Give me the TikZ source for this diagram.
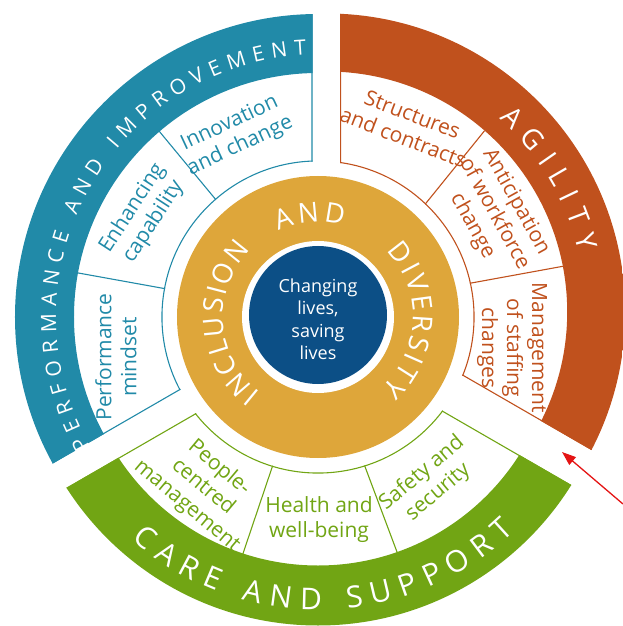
\documentclass[tikz,border=0pt]{standalone}
\usepackage{fontspec}
\setmainfont{Open Sans}
\usetikzlibrary{decorations.text,arrows.meta}
\definecolor{perfblue}{RGB}{33,138,168}
\definecolor{agired}{RGB}{192,81,29}
\definecolor{caregreen}{RGB}{113,165,20}
\definecolor{ringgold}{RGB}{222,166,58}
\definecolor{corenavy}{RGB}{12,79,134}
\definecolor{markred}{RGB}{228,20,20}
\begin{document}
\begin{tikzpicture}[x=1pt,y=1pt,
  boxtext/.style={font=\fontsize{21}{25}\selectfont, align=center, inner sep=0pt},
  edgeline/.style={line width=2.2pt},
  divline/.style={line width=1.1pt},
  bandtext/.style={decorate, decoration={text along path, text align={fit to path}, text color=white}}]
\useasboundingbox (-318,-309) rectangle (305,317);
\clip (-318,-309) rectangle (305,317);

% ---------- centre ----------
\fill[ringgold] (0,0) circle (141);
\fill[white] (0,0) circle (76);
\node[circle, fill=corenavy, minimum size=138pt, inner sep=0pt] (core) at (0,2) {};
\node[text=white, font=\fontsize{18}{22.5}\selectfont, align=center, inner sep=0pt] (coretext) at (0,-2) {Changing\\lives,\\saving\\lives};

\path[bandtext, decoration={text={|\fontsize{27.5}{27.5}\selectfont|INCLUSION}}]
  (233:95) arc[start angle=233, end angle=135, radius=95];
\path[bandtext, decoration={text={|\fontsize{27.5}{27.5}\selectfont|AND}}]
  (114.5:95) arc[start angle=114.5, end angle=74.5, radius=95];
\path[bandtext, decoration={text={|\fontsize{27.5}{27.5}\selectfont|DIVERSITY}}]
  (44:95) arc[start angle=44, end angle=-48, radius=95];

% ---------- performance and improvement ----------
\begin{scope}
  \clip (-5.5,3.4) -- +(90:900) -- +(150:1200) -- +(210:900) -- cycle;
  \begin{scope}[even odd rule]
    \clip (0,0) circle (303) (0,0) circle (155.5);
    \draw[perfblue, edgeline] (-5.5,3.4) -- +(90:900) (-5.5,3.4) -- +(210:900);
    \draw[perfblue, edgeline] (0,0) circle (155.5);
    \draw[perfblue, divline] (131.1:150) -- (130.5:250);
    \draw[perfblue, divline] (169.5:150) -- (169.6:250);
    \fill[perfblue] (0,0) circle (310) (0,0) circle (244);
  \end{scope}
\end{scope}
\path[bandtext, decoration={text={|\fontsize{21}{21}\selectfont|PERFORMANCE AND IMPROVEMENT}}]
  (209.5:262) arc[start angle=209.5, end angle=92.5, radius=262];

% ---------- agility ----------
\begin{scope}
  \clip (22,12.1) -- +(90:900) -- +(30:1200) -- +(-30:900) -- cycle;
  \begin{scope}[even odd rule]
    \clip (8.7,5) circle (298.5) (0,0) circle (155.5);
    \draw[agired, edgeline] (22,12.1) -- +(90:900) (22,12.1) -- +(-30:900);
    \draw[agired, edgeline] (0,0) circle (155.5);
    \draw[agired, divline] (46.3:150) -- (48.2:250);
    \draw[agired, divline] (12.6:150) -- (11.7:250);
    \fill[agired] (8.7,5) circle (310) (8.7,5) circle (240.5);
  \end{scope}
\end{scope}
\path[bandtext, decoration={text={|\fontsize{28}{28}\selectfont|AGILITY}}]
  ([shift={(8.7,5)}]48.3:259) arc[start angle=48.3, end angle=13.5, radius=259];

% ---------- care and support ----------
\begin{scope}
  \clip (3.3,-23.6) -- +(210:900) -- +(270:1200) -- +(330:900) -- cycle;
  \begin{scope}[even odd rule]
    \clip (0,-10) circle (298.5) (0,0) circle (155.5);
    \draw[caregreen, edgeline] (3.3,-23.6) -- +(210:900) (3.3,-23.6) -- +(330:900);
    \draw[caregreen, edgeline] (0,0) circle (155.5);
    \draw[caregreen, divline] (253.1:150) -- (252.4:250);
    \draw[caregreen, divline] (287.3:150) -- (288.6:250);
    \fill[caregreen] (0,-10) circle (310) (0,-10) circle (238.5);
  \end{scope}
\end{scope}
\path[bandtext, decoration={text={|\fontsize{30}{30}\selectfont|CARE AND SUPPORT}}]
  ([shift={(0,-10)}]228.7:283) arc[start angle=228.7, end angle=313.9, radius=283];

% ---------- box labels ----------
\node[boxtext, text=perfblue, rotate=25] (innov) at (-83,182) {Innovation\\and change};
\node[boxtext, text=perfblue, rotate=57] (enhance) at (-175,102) {Enhancing\\capability};
\node[boxtext, text=perfblue, rotate=90] (perfmind) at (-202,-40) {Performance\\mindset};
\node[boxtext, text=agired, rotate=-21] (struct) at (90,191) {Structures\\and contracts};
\node[boxtext, text=agired, rotate=-61] (anticip) at (176,103) {Anticipation\\of workforce\\change};
\node[boxtext, text=agired, rotate=-90] (manage) at (194,-31) {Management\\of staffing\\changes};
\node[boxtext, text=caregreen, rotate=-40] (people) at (-115,-170) {People-\\centred\\management};
\node[boxtext, text=caregreen] (health) at (1,-203) {Health and\\well-being};
\node[boxtext, text=caregreen, rotate=40] (safety) at (112,-166) {Safety and\\security};

% ---------- red pointer ----------
\coordinate (arrowtail) at (305,-187);
\coordinate (arrowtip) at (244,-135);
\draw[markred, line width=1.3pt, -{Triangle[length=14pt,width=10pt]}] (arrowtail) -- (arrowtip);
\end{tikzpicture}
\end{document}
